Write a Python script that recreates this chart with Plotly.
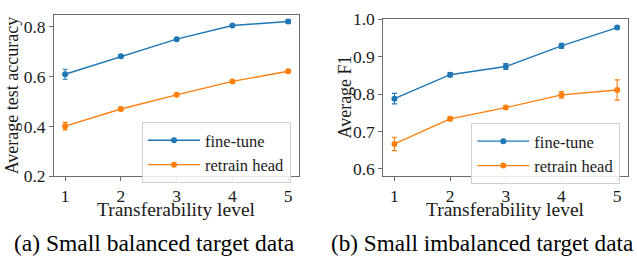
import plotly.graph_objects as go

levels = [1, 2, 3, 4, 5]
tick_vals_x = [1, 2, 3, 4, 5]

# (a) Small balanced target data — average test accuracy
a_finetune = [0.610, 0.682, 0.751, 0.806, 0.822]
a_finetune_err = [0.020, 0.006, 0.004, 0.004, 0.008]
a_retrain = [0.401, 0.470, 0.527, 0.581, 0.622]
a_retrain_err = [0.015, 0.007, 0.005, 0.005, 0.007]
a_yticks = [0.2, 0.4, 0.6, 0.8]

# (b) Small imbalanced target data — average F1
b_finetune = [0.788, 0.852, 0.874, 0.929, 0.978]
b_finetune_err = [0.014, 0.006, 0.008, 0.007, 0.003]
b_retrain = [0.667, 0.734, 0.764, 0.798, 0.811]
b_retrain_err = [0.018, 0.005, 0.005, 0.009, 0.027]
b_yticks = [0.6, 0.7, 0.8, 0.9, 1.0]

series_names = ["fine-tune", "retrain head"]
colors = ["#1f77b4", "#ff7f0e"]
captions = ["(a) Small balanced target data", "(b) Small imbalanced target data"]
ylabels = ["Average test accuracy", "Average F1"]
xlabel = "Transferability level"

W, H = 637, 265
FONT = "Liberation Serif"
FS = 17.5
LFS = 16.5

fig = go.Figure()

def add_series(y, err, name, color, xa, ya, legend, show):
    fig.add_trace(go.Scatter(
        x=levels, y=y, name=name, mode="lines+markers",
        line=dict(color=color, width=1.4),
        marker=dict(color=color, size=6),
        error_y=dict(type="data", array=err, color=color, thickness=1.1, width=2.5),
        xaxis=xa, yaxis=ya, legend=legend, showlegend=show,
    ))

add_series(a_finetune, a_finetune_err, series_names[0], colors[0], "x", "y", "legend", True)
add_series(a_retrain, a_retrain_err, series_names[1], colors[1], "x", "y", "legend", True)
add_series(b_finetune, b_finetune_err, series_names[0], colors[0], "x2", "y2", "legend2", True)
add_series(b_retrain, b_retrain_err, series_names[1], colors[1], "x2", "y2", "legend2", True)

# axes geometry in pixels
L = dict(x0=54, x1=299.3, ytop=6, ybot=180)
R = dict(x0=383.3, x1=628.3, ytop=10.7, ybot=180)

def px_dom_x(a, b):
    return [a / W, b / W]

def px_dom_y(top, bot):
    return [(H - bot) / H, (H - top) / H]

axis_common = dict(
    showgrid=False, zeroline=False, showline=True, mirror=True,
    linecolor="#6b6b6b", linewidth=1, ticks="outside", ticklen=4,
    tickcolor="#6b6b6b", tickwidth=1,
    tickfont=dict(family=FONT, size=FS, color="#1a1a1a"),
)

legend_common = dict(
    bgcolor="rgba(255,255,255,0.85)", bordercolor="#d0d0d0", borderwidth=1,
    font=dict(family=FONT, size=LFS, color="#1a1a1a"),
    itemwidth=52, tracegroupgap=0,
)

fig.update_layout(
    width=W, height=H, margin=dict(l=0, r=0, t=0, b=0),
    paper_bgcolor="white", plot_bgcolor="white",
    font=dict(family=FONT, size=FS, color="#1a1a1a"),
    xaxis=dict(domain=px_dom_x(L["x0"], L["x1"]), range=[0.8, 5.2],
               tickvals=tick_vals_x, anchor="y", **axis_common),
    yaxis=dict(domain=px_dom_y(L["ytop"], L["ybot"]), range=[0.2, 0.85],
               tickvals=a_yticks, tickformat=".1f", anchor="x", **axis_common),
    xaxis2=dict(domain=px_dom_x(R["x0"], R["x1"]), range=[0.8, 5.2],
                tickvals=tick_vals_x, anchor="y2", **axis_common),
    yaxis2=dict(domain=px_dom_y(R["ytop"], R["ybot"]), range=[0.581, 1.001],
                tickvals=b_yticks, tickformat=".1f", anchor="x2", **axis_common),
    legend=dict(x=291 / W, xanchor="right", y=(H - 121.7) / H, yanchor="top", **legend_common),
    legend2=dict(x=620.3 / W, xanchor="right", y=(H - 122.7) / H, yanchor="top", **legend_common),
)

ann = []
# y-axis titles
ann.append(dict(text=ylabels[0], x=12 / W, y=(H - (L["ytop"] + L["ybot"]) / 2) / H,
                xref="paper", yref="paper", textangle=-90, showarrow=False,
                xanchor="center", yanchor="middle",
                font=dict(family=FONT, size=18, color="#1a1a1a")))
ann.append(dict(text=ylabels[1], x=345 / W, y=(H - (R["ytop"] + R["ybot"]) / 2) / H,
                xref="paper", yref="paper", textangle=-90, showarrow=False,
                xanchor="center", yanchor="middle",
                font=dict(family=FONT, size=18, color="#1a1a1a")))
# x-axis titles
for ax in (L, R):
    ann.append(dict(text=xlabel, x=(ax["x0"] + ax["x1"]) / 2 / W, y=(H - 216) / H,
                    xref="paper", yref="paper", showarrow=False,
                    xanchor="center", yanchor="middle",
                    font=dict(family=FONT, size=19.5, color="#1a1a1a")))
# captions
ann.append(dict(text=captions[0], x=154 / W, y=(H - 252) / H, xref="paper", yref="paper",
                showarrow=False, xanchor="center", yanchor="middle",
                font=dict(family=FONT, size=23.5, color="black")))
ann.append(dict(text=captions[1], x=482 / W, y=(H - 252) / H, xref="paper", yref="paper",
                showarrow=False, xanchor="center", yanchor="middle",
                font=dict(family=FONT, size=23.2, color="black")))
fig.update_layout(annotations=ann)

fig.write_html("out.html", config={"displayModeBar": False},
               post_script="document.body.style.margin='0px';")
